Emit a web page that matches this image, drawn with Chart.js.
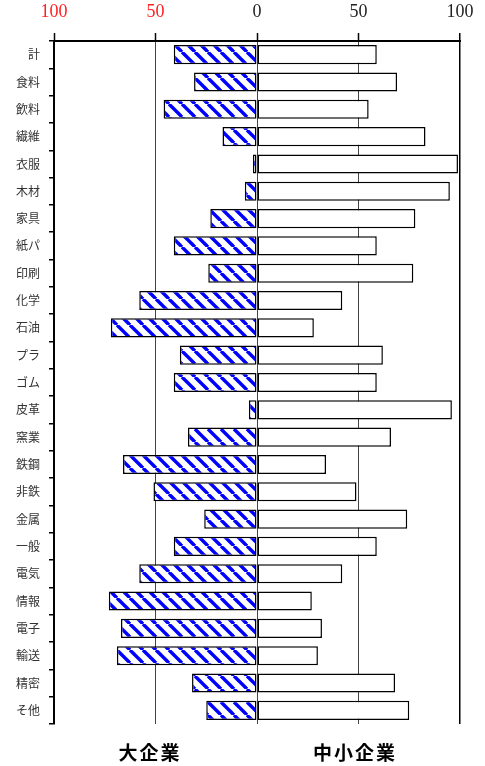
<!DOCTYPE html>
<html>
<head>
<meta charset="utf-8">
<script src="https://cdn.jsdelivr.net/npm/chart.js@4"></script>
<style>
    body { margin: 0; background: #fff; }
    #wrap { position: relative; width: 485px; height: 766px; }
    .side {
        position: absolute; top: 738px; width: 120px; text-align: center;
        font-family: "Noto Sans CJK JP", sans-serif; font-weight: bold;
        font-size: 19px; letter-spacing: 2px; color: #000;
    }
</style>
</head>
<body>
<div id="wrap">
    <canvas id="chart" width="485" height="766"></canvas>
    <div class="side" style="left: 90px;">大企業</div>
    <div class="side" style="left: 295px;">中小企業</div>
</div>
<script>
const categories = ['計', '食料', '飲料', '繊維', '衣服', '木材', '家具', '紙パ', '印刷', '化学',
    '石油', 'プラ', 'ゴム', '皮革', '窯業', '鉄鋼', '非鉄', '金属', '一般', '電気',
    '情報', '電子', '輸送', '精密', 'そ他'];
// 大企業 (drawn to the left)
const largeFirms = [41, 31, 46, 17, 2, 6, 23, 41, 24, 58, 72, 38, 41, 4, 34, 66, 51, 26, 41, 58, 73, 67, 69, 32, 25];
// 中小企業 (drawn to the right)
const smallFirms = [59, 69, 55, 83, 99, 95, 78, 59, 77, 42, 28, 62, 59, 96, 66, 34, 49, 74, 59, 42, 27, 32, 30, 68, 75];
const xTicks = [-100, -50, 0, 50, 100];

// blue diagonal hatch
function makeHatch() {
    const s = 13;
    const c = document.createElement('canvas');
    c.width = s; c.height = s;
    const g = c.getContext('2d');
    g.fillStyle = '#fff';
    g.fillRect(0, 0, s, s);
    g.strokeStyle = '#0000ff';
    g.lineWidth = 3.4;
    [-s, 0, s].forEach(k => {
        g.beginPath();
        g.moveTo(k, 0);
        g.lineTo(k + s, s);
        g.stroke();
    });
    return g.createPattern(c, 'repeat');
}

const ctx = document.getElementById('chart').getContext('2d');
new Chart(ctx, {
    type: 'bar',
    data: {
        labels: categories,
        datasets: [{
            label: '大企業',
            data: largeFirms.map(v => -v),
            backgroundColor: makeHatch(),
            borderColor: '#000',
            borderWidth: 1.5,
            borderSkipped: false,
            barPercentage: 0.7,
            categoryPercentage: 1
        }, {
            label: '中小企業',
            data: smallFirms,
            backgroundColor: '#fff',
            borderColor: '#000',
            borderWidth: 1.5,
            borderSkipped: false,
            barPercentage: 0.7,
            categoryPercentage: 1
        }]
    },
    options: {
        indexAxis: 'y',
        responsive: false,
        animation: false,
        layout: { padding: { left: 0, right: 25, top: 0, bottom: 42 } },
        plugins: {
            legend: { display: false },
            tooltip: { enabled: false }
        },
        scales: {
            x: {
                position: 'top',
                stacked: true,
                min: -100,
                max: 100,
                afterBuildTicks: axis => { axis.ticks = xTicks.map(v => ({ value: v })); },
                afterFit: axis => { axis.height = 41; },
                border: { display: true, color: '#000', width: 2 },
                grid: {
                    color: c => (c.tick && c.tick.value === 100) ? '#000' : '#444',
                    lineWidth: c => (c.tick && c.tick.value === 100) ? 1.5 : 1,
                    tickColor: '#000',
                    tickLength: 8,
                    tickWidth: 1.5
                },
                ticks: {
                    padding: 10,
                    maxRotation: 0,
                    font: { family: '"Liberation Serif", serif', size: 18 },
                    color: c => c.tick.value < 0 ? '#ff2020' : '#222',
                    callback: v => Math.abs(v)
                }
            },
            y: {
                stacked: true,
                afterFit: axis => { axis.width = 54; },
                border: { display: true, color: '#000', width: 2 },
                grid: {
                    offset: true,
                    drawOnChartArea: false,
                    color: '#000',
                    tickLength: 5,
                    lineWidth: 1.5
                },
                ticks: {
                    padding: 9,
                    font: { family: '"Noto Sans CJK JP", sans-serif', size: 12 },
                    color: '#333'
                }
            }
        }
    }
});
</script>
</body>
</html>
